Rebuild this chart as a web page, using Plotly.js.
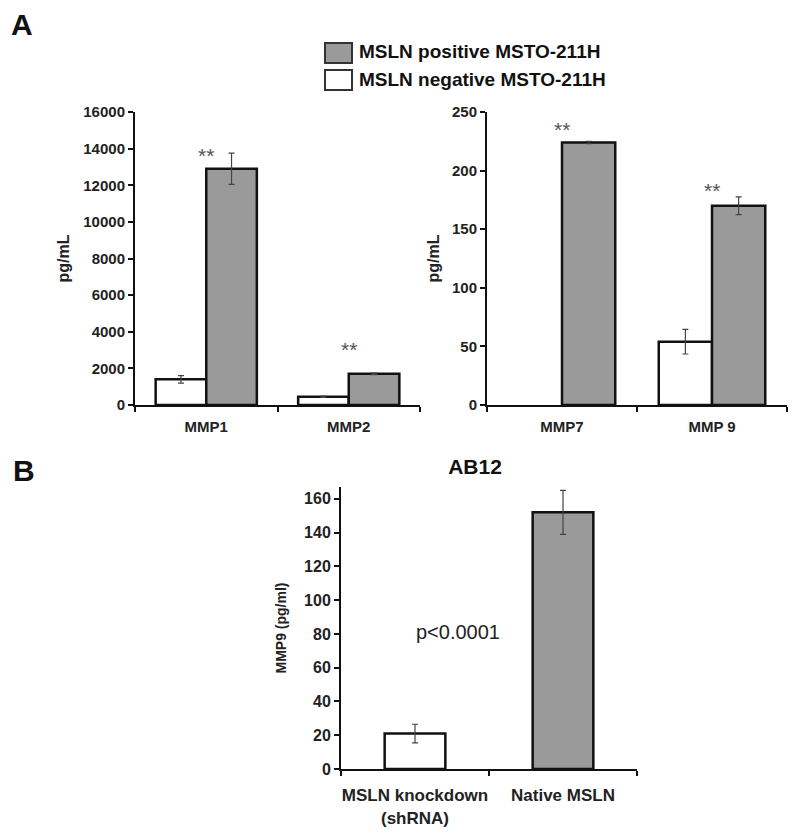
<!DOCTYPE html>
<html><head><meta charset="utf-8">
<script src="https://cdn.plot.ly/plotly-3.0.1.min.js"></script>
<style>body{margin:0;background:#fff}#chart{width:800px;height:837px}</style>
</head><body><div id="chart"></div>
<script>
// Panel A left
const catsA1 = ['MMP1', 'MMP2'];
const negA1 = [1400, 450];
const negA1Err = [200, 40];
const posA1 = [12900, 1700];
const posA1Err = [850, 40];
const starA1Y = [13900, 3300];
// Panel A right
const catsA2 = ['MMP7', 'MMP 9'];
const negA2 = [null, 54];
const negA2Err = [0, 10.5];
const posA2 = [224, 170];
const posA2Err = [1, 7.5];
const starA2Y = [239, 187];
// Panel B
const catsB = ['MSLN knockdown<br>(shRNA)', 'Native MSLN'];
const valsB = [21, 152];
const errB = [5.5, 13];
const seriesNames = ['MSLN negative MSTO-211H', 'MSLN positive MSTO-211H'];

const GRAY = '#9a9a9a';
const FONT = 'Liberation Sans, Arial, sans-serif';
const barLine = {color: '#111', width: 2.5};
const errStyle = (arr) => ({type: 'data', array: arr, visible: true, color: '#444', thickness: 1.2, width: 3});

const traces = [
  {type: 'bar', x: catsA1, y: negA1, name: seriesNames[0], marker: {color: '#fff', line: barLine}, error_y: errStyle(negA1Err), xaxis: 'x', yaxis: 'y', showlegend: false},
  {type: 'bar', x: catsA1, y: posA1, name: seriesNames[1], marker: {color: GRAY, line: barLine}, error_y: errStyle(posA1Err), xaxis: 'x', yaxis: 'y', showlegend: false},
  {type: 'bar', x: catsA2, y: negA2, name: seriesNames[0], marker: {color: '#fff', line: barLine}, error_y: errStyle(negA2Err), xaxis: 'x2', yaxis: 'y2', showlegend: false},
  {type: 'bar', x: catsA2, y: posA2, name: seriesNames[1], marker: {color: GRAY, line: barLine}, error_y: errStyle(posA2Err), xaxis: 'x2', yaxis: 'y2', showlegend: false},
  {type: 'bar', x: catsB, y: valsB, name: 'AB12', marker: {color: ['#fff', GRAY], line: barLine}, error_y: errStyle(errB), xaxis: 'x3', yaxis: 'y3', showlegend: false, width: 0.41}
];

const W = 800, H = 837;
const px = v => v / W;
const py = v => 1 - v / H;

const xCommon = {
  type: 'category', showline: true, linecolor: '#111', linewidth: 2,
  ticks: 'outside', tickson: 'boundaries', ticklen: 5, tickwidth: 2, tickcolor: '#111',
  showgrid: false, zeroline: false, automargin: false, tickangle: 0, ticklabelstandoff: 7,
  tickfont: {family: FONT, size: 15, color: '#222', weight: 'bold'}
};
const yCommon = {
  showline: true, linecolor: '#111', linewidth: 2,
  ticks: 'outside', ticklen: 5, tickwidth: 2, tickcolor: '#111',
  showgrid: false, zeroline: false, automargin: false, tickformat: 'd',
  tickfont: {family: FONT, size: 15, color: '#222', weight: 'bold'}
};

const ann = (o) => Object.assign({xref: 'paper', yref: 'paper', xanchor: 'center', yanchor: 'middle', showarrow: false}, o);
const annotations = [];
catsA1.forEach((c, i) => annotations.push({x: c, y: starA1Y[i], xref: 'x', yref: 'y', xanchor: 'center', yanchor: 'middle', text: '**', showarrow: false, yshift: -5, font: {family: FONT, size: 21, color: '#555'}}));
catsA2.forEach((c, i) => annotations.push({x: c, y: starA2Y[i], xref: 'x2', yref: 'y2', xanchor: 'center', yanchor: 'middle', text: '**', showarrow: false, yshift: -5, font: {family: FONT, size: 21, color: '#555'}}));
annotations.push(
  ann({x: px(22), y: py(24), text: 'A', font: {family: FONT, size: 30, color: '#111', weight: 'bold'}}),
  ann({x: px(24), y: py(470), text: 'B', font: {family: FONT, size: 30, color: '#111', weight: 'bold'}}),
  ann({x: px(458), y: py(632), text: 'p<0.0001', font: {family: FONT, size: 20, color: '#222'}}),
  ann({x: px(357), y: py(52), xanchor: 'left', text: seriesNames[1], font: {family: FONT, size: 19, color: '#111', weight: 'bold'}}),
  ann({x: px(357), y: py(80), xanchor: 'left', text: seriesNames[0], font: {family: FONT, size: 19, color: '#111', weight: 'bold'}})
);

const shapes = [
  {type: 'rect', xref: 'paper', yref: 'paper', x0: px(325), x1: px(352), y0: py(43), y1: py(63), fillcolor: GRAY, line: {color: '#333', width: 2}},
  {type: 'rect', xref: 'paper', yref: 'paper', x0: px(325), x1: px(352), y0: py(70), y1: py(90), fillcolor: '#fff', line: {color: '#333', width: 2}}
];

const layout = {
  width: W, height: H, margin: {l: 0, r: 0, t: 0, b: 0},
  paper_bgcolor: '#fff', plot_bgcolor: 'rgba(0,0,0,0)',
  barmode: 'group', bargap: 0.29, bargroupgap: 0,
  showlegend: false,
  title: {text: 'AB12', x: px(475), xanchor: 'center', y: py(467), yanchor: 'middle', font: {family: FONT, size: 21, color: '#111', weight: 'bold'}},
  xaxis: Object.assign({}, xCommon, {domain: [px(135), px(420)], anchor: 'y'}),
  yaxis: Object.assign({}, yCommon, {domain: [py(405), py(112)], anchor: 'x', range: [0, 16000], dtick: 2000,
    title: {text: 'pg/mL', standoff: 10, font: {family: FONT, size: 16, color: '#222', weight: 'bold'}}}),
  xaxis2: Object.assign({}, xCommon, {domain: [px(487), px(787)], anchor: 'y2'}),
  yaxis2: Object.assign({}, yCommon, {domain: [py(405), py(112)], anchor: 'x2', range: [0, 250], dtick: 50,
    title: {text: 'pg/mL', standoff: 8, font: {family: FONT, size: 16, color: '#222', weight: 'bold'}}}),
  xaxis3: Object.assign({}, xCommon, {domain: [px(341), px(637)], anchor: 'y3', ticklabelstandoff: 10, tickfont: {family: FONT, size: 17, color: '#222', weight: 'bold'}}),
  yaxis3: Object.assign({}, yCommon, {domain: [py(769), py(487)], anchor: 'x3', range: [0, 167], dtick: 20,
    tickfont: {family: FONT, size: 16, color: '#222', weight: 'bold'},
    title: {text: 'MMP9 (pg/ml)', standoff: 14, font: {family: FONT, size: 14, color: '#222', weight: 'bold'}}}),
  annotations: annotations,
  shapes: shapes
};

Plotly.newPlot('chart', traces, layout, {displayModeBar: false, staticPlot: true});
</script>
</body></html>
